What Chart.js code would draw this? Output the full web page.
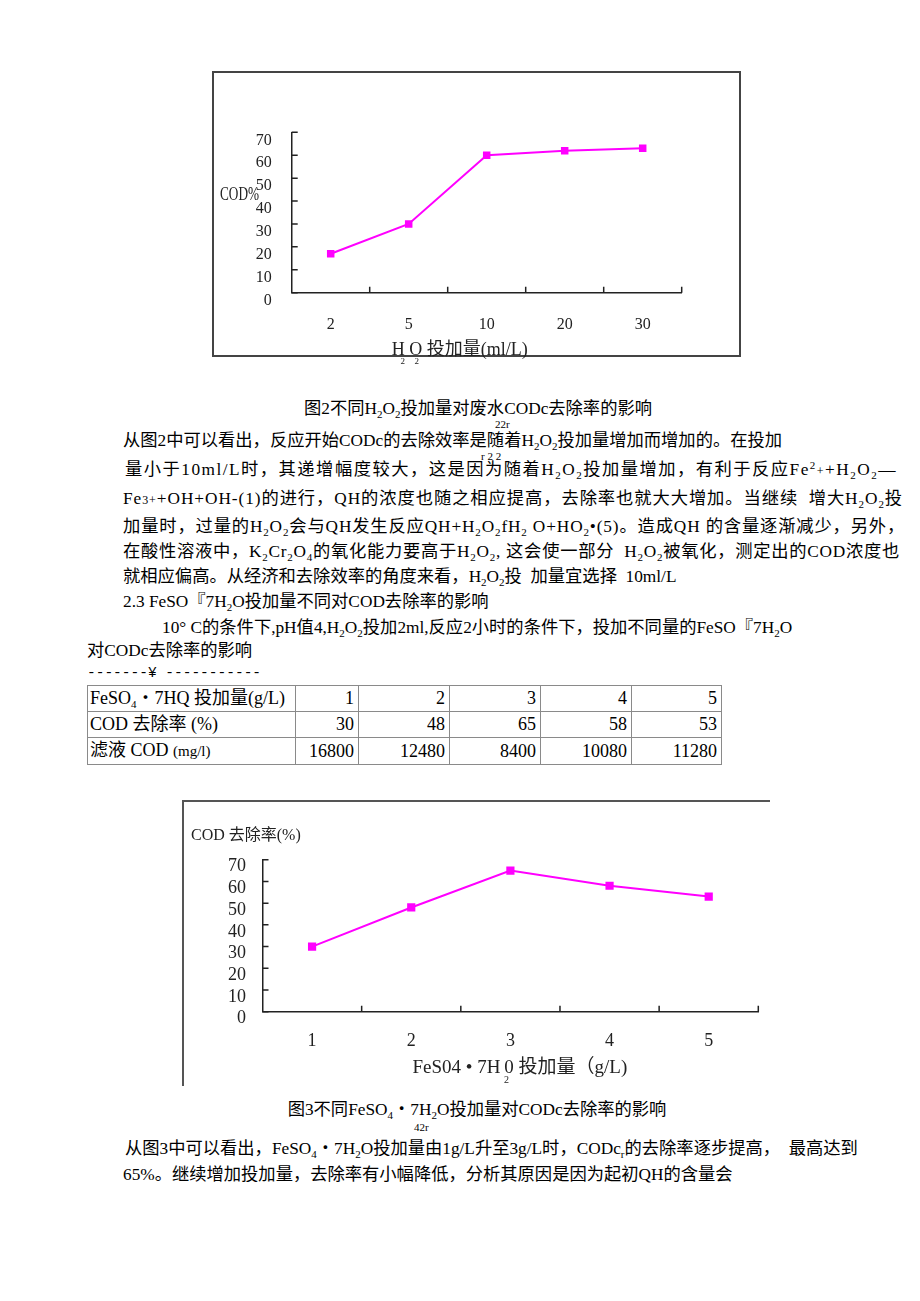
<!DOCTYPE html>
<html><head><meta charset="utf-8">
<script src="https://cdn.jsdelivr.net/npm/chart.js@4.4.1/dist/chart.umd.min.js"></script>
<style>
html,body{margin:0;padding:0;background:#fff;}
body{width:920px;height:1301px;position:relative;overflow:hidden;font-family:"Liberation Serif","Noto Sans CJK SC",serif;color:#000;}
.ln{position:absolute;white-space:pre;font-size:17.3px;line-height:20px;}
.b{font-size:11px;vertical-align:-4px;line-height:0;}
.p{font-size:11px;vertical-align:6px;line-height:0;}
.s{font-size:12px;line-height:0;}
.tiny{position:absolute;font-size:11px;white-space:pre;line-height:12px;}
#f1{position:absolute;left:212px;top:71px;width:529px;height:286px;box-sizing:border-box;border:2px solid #444;}
#f2{position:absolute;left:182px;top:800px;width:588px;height:286px;box-sizing:border-box;border-top:2px solid #555;border-left:2px solid #555;}
canvas{position:absolute;}
#c1{left:205px;top:65px;}
#c2{left:180px;top:795px;}
#tbl{position:absolute;left:87px;top:685px;border-collapse:collapse;table-layout:fixed;width:634px;font-size:18px;}
#tbl td{border:1px solid #8a8a8a;height:25px;padding:0 4px 0 2px;line-height:25px;white-space:pre;overflow:hidden;}
#tbl td.n{text-align:right;}
</style>
</head>
<body>
<div id="f1"></div>
<canvas id="c1" width="545" height="305"></canvas>

<div class="ln" style="left:0;width:956px;text-align:center;top:399px">图2不同H<span class="b">2</span>O<span class="b">2</span>投加量对废水CODc去除率的影响</div>
<div class="tiny" style="left:495px;top:418px">22r</div>
<div class="ln" style="left:123px;top:431px">从图2中可以看出，反应开始CODc的去除效率是随着H<span class="b">2</span>O<span class="b">2</span>投加量增加而增加的。在投加</div>
<div class="tiny" style="left:481px;top:450px">r 2 2</div>
<div class="ln" data-w="772" style="left:125px;top:460px">量小于10ml/L时，其递增幅度较大，这是因为随着H<span class="b">2</span>O<span class="b">2</span>投加量增加，有利于反应Fe<span class="p">2</span><span class="s">+</span>+H<span class="b">2</span>O<span class="b">2</span>—</div>
<div class="ln" data-w="780" style="left:123px;top:489px">Fe<span class="s">3+</span>+OH+OH-(1)的进行，QH的浓度也随之相应提高，去除率也就大大增加。当继续  增大H<span class="b">2</span>O<span class="b">2</span>投</div>
<div class="ln" data-w="782" style="left:123px;top:517px">加量时，过量的H<span class="b">2</span>O<span class="b">2</span>会与QH发生反应QH+H<span class="b">2</span>O<span class="b">2</span>fH<span class="b">2</span> O+HO<span class="b">2</span>•(5)。造成QH 的含量逐渐减少，另外，</div>
<div class="ln" data-w="777" style="left:123px;top:542px">在酸性溶液中，K<span class="b">2</span>Cr<span class="b">2</span>O<span class="b">4</span>的氧化能力要高于H<span class="b">2</span>O<span class="b">2</span>, 这会使一部分  H<span class="b">2</span>O<span class="b">2</span>被氧化，测定出的COD浓度也</div>
<div class="ln" style="left:123px;top:567px">就相应偏高。从经济和去除效率的角度来看，H<span class="b">2</span>O<span class="b">2</span>投  加量宜选择  10ml/L</div>
<div class="ln" style="left:123px;top:592px">2.3 FeSO『7H<span class="b">2</span>O投加量不同对COD去除率的影响</div>
<div class="ln" style="left:162px;top:618px">10° C的条件下,pH值4,H<span class="b">2</span>O<span class="b">2</span>投加2ml,反应2小时的条件下，投加不同量的FeSO『7H<span class="b">2</span>O</div>
<div class="ln" style="left:87px;top:641px">对CODc去除率的影响</div>
<div class="ln" style="left:87px;top:663px;font-family:'Liberation Mono',monospace;font-size:14.5px">-------¥ -----------</div>

<table id="tbl"><colgroup><col style="width:208px"><col style="width:63px"><col style="width:91px"><col style="width:91px"><col style="width:91px"><col style="width:90px"></colgroup><tbody id="tb"></tbody></table>

<div id="f2"></div>
<canvas id="c2" width="600" height="300"></canvas>

<div class="ln" style="left:0;width:954px;text-align:center;top:1100px">图3不同FeSO<span class="b">4</span>・7H<span class="b">2</span>O投加量对CODc去除率的影响</div>
<div class="tiny" style="left:414px;top:1121px">42r</div>
<div class="ln" style="left:125px;top:1139px">从图3中可以看出，FeSO<span class="b">4</span>・7H<span class="b">2</span>O投加量由1g/L升至3g/L时，CODc<span class="b">r</span>的去除率逐步提高，  最高达到</div>
<div class="ln" style="left:123px;top:1165px">65%。继续增加投加量，去除率有小幅降低，分析其原因是因为起初QH的含量会</div>

<script>
// ---- data ----
const h2o2Doses = ['2', '5', '10', '20', '30'];
const h2o2Removal = [17, 30, 60, 62, 63];
const feDoses = ['1', '2', '3', '4', '5'];
const feRemoval = [30, 48, 65, 58, 53];
const feFiltrateCOD = [16800, 12480, 8400, 10080, 11280];
const yMin = 0, yMax = 70, yStep = 10;
const rowLabels = ['FeSO<span class="b">4</span>・7HQ 投加量(g/L)', 'COD 去除率 (%)', '滤液 COD <span style="font-size:15px">(mg/l)</span>'];

// ---- justified lines ----
document.querySelectorAll('[data-w]').forEach(el => {
  const target = +el.dataset.w;
  const natural = el.getBoundingClientRect().width;
  const n = el.textContent.length;
  el.style.letterSpacing = ((target - natural) / n) + 'px';
});

// ---- table ----
(function () {
  const rows = [feDoses, feRemoval, feFiltrateCOD];
  const tb = document.getElementById('tb');
  rows.forEach((vals, r) => {
    const tr = document.createElement('tr');
    const th = document.createElement('td');
    th.innerHTML = rowLabels[r];
    tr.appendChild(th);
    vals.forEach(v => { const td = document.createElement('td'); td.className = 'n'; td.textContent = v; tr.appendChild(td); });
    tb.appendChild(tr);
  });
})();

const FAM = '"Liberation Serif", "Noto Sans CJK SC", serif';

function inwardTicks(len, color, width) {
  return {
    id: 'inwardTicks',
    afterDatasetsDraw(chart) {
      const { ctx, chartArea: a, scales: { x, y } } = chart;
      ctx.save();
      ctx.strokeStyle = color; ctx.lineWidth = width;
      ctx.beginPath();
      y.ticks.forEach((t, i) => { const p = y.getPixelForTick(i); ctx.moveTo(a.left, p); ctx.lineTo(a.left + len, p); });
      x.ticks.forEach((t, i) => { const p = x.getPixelForValue(i + 0.5); ctx.moveTo(p, a.bottom); ctx.lineTo(p, a.bottom - len); });
      ctx.stroke();
      ctx.restore();
    }
  };
}
function axisTexts(items, color) {
  return {
    id: 'axisTexts',
    afterDraw(chart) {
      const { ctx, chartArea: a } = chart;
      ctx.save();
      ctx.fillStyle = color; ctx.textBaseline = 'middle';
      items.forEach(it => {
        ctx.font = it.size + 'px ' + FAM;
        ctx.textAlign = it.align || 'left';
        if (it.maxWidth) ctx.fillText(it.text, a.left + it.dx, a.bottom + it.dy, it.maxWidth);
        else ctx.fillText(it.text, a.left + it.dx, a.bottom + it.dy);
      });
      ctx.restore();
    }
  };
}

function makeChart(id, labels, values, g) {
  return new Chart(document.getElementById(id), {
    type: 'line',
    data: {
      labels: labels,
      datasets: [{
        data: values, borderColor: '#ff00ff', backgroundColor: '#ff00ff', borderWidth: 2,
        pointStyle: 'rect', pointRadius: g.pr, pointBorderWidth: 0, tension: 0, fill: false
      }]
    },
    options: {
      responsive: false, animation: false, devicePixelRatio: 1,
      layout: { padding: { left: 0, top: g.top, right: g.right, bottom: 0 } },
      plugins: { legend: { display: false }, tooltip: { enabled: false }, title: { display: false } },
      scales: {
        x: {
          offset: true,
          grid: { display: false, drawTicks: false, offset: true },
          border: { display: true, color: '#222', width: 1.5 },
          ticks: { font: { family: FAM, size: g.xfs }, color: '#222', padding: g.xpad, maxRotation: 0, autoSkip: false },
          afterFit: s => { s.height = g.xh; }
        },
        y: {
          min: yMin, max: yMax,
          grid: { display: false, drawTicks: false },
          border: { display: true, color: '#222', width: 1.5 },
          ticks: { stepSize: yStep, font: { family: FAM, size: g.yfs }, color: '#222', padding: g.ypad, labelOffset: g.yoff, autoSkip: false },
          afterFit: s => { s.width = g.yw; }
        }
      }
    },
    plugins: [inwardTicks(6, '#222', 1.5), axisTexts(g.texts, '#222')]
  });
}

makeChart('c1', h2o2Doses, h2o2Removal, {
  pr: 5.3, top: 67.3, right: 68.3, xh: 77.3, yw: 86.7, xfs: 16, yfs: 16, xpad: 22, ypad: 20, yoff: 8,
  texts: [
    { text: 'COD%', dx: -71.7, dy: -97.7, size: 19, maxWidth: 39 },
    { text: 'H O 投加量(ml/L)', dx: 100, dy: 57.3, size: 18, maxWidth: 137 },
    { text: '2', dx: 111, dy: 69, size: 9, align: 'center' },
    { text: '2', dx: 125, dy: 69, size: 9, align: 'center' }
  ]
});

makeChart('c2', feDoses, feRemoval, {
  pr: 5.8, top: 64.7, right: 21.7, xh: 83.3, yw: 82.5, xfs: 18, yfs: 18, xpad: 19, ypad: 16.6, yoff: 7,
  texts: [
    { text: 'COD 去除率(%)', dx: -71.5, dy: -175.7, size: 16, maxWidth: 111 },
    { text: 'FeS04 • 7H\u20090 投加量（g/L)', dx: 150, dy: 56.3, size: 19, maxWidth: 230 },
    { text: '2', dx: 244, dy: 68.3, size: 10, align: 'center' }
  ]
});
</script>
</body></html>
